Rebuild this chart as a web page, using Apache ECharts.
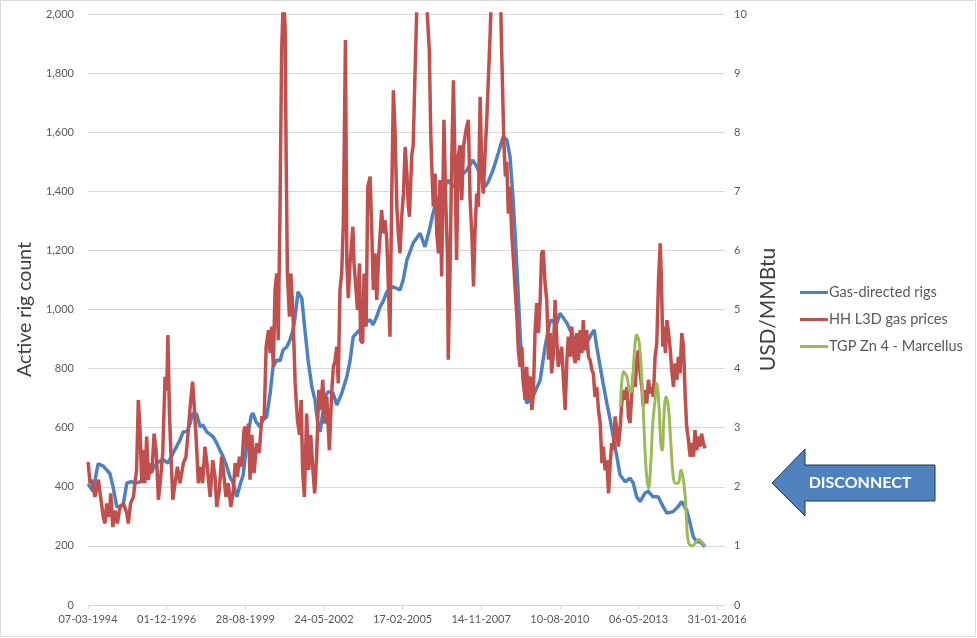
<!DOCTYPE html>
<html lang="en">
<head>
<meta charset="UTF-8">
<title>Gas rigs vs gas prices</title>
<style>html,body{margin:0;padding:0;background:#fff;}</style>
</head>
<body>
<div id="main" style="width:977px;height:638px;"></div>
<script src="https://cdn.jsdelivr.net/npm/echarts@6/dist/echarts.min.js"></script>
<script>
    // dates kept as decimal years, x axis runs in days from 07-03-1994
    var startYear = 1994.178;
    var startMs = Date.UTC(1994, 2, 7);
    var dateTicks = [0, 1000, 2000, 3000, 4000, 5000, 6000, 7000, 8000];

    var rigYears = [1994.18,1994.35,1994.53,1994.71,1994.94,1995.05,1995.18,1995.29,1995.40,1995.53,
        1995.68,1995.87,1996.09,1996.34,1996.57,1996.79,1996.96,1997.14,1997.38,1997.49,
        1997.63,1997.73,1997.83,1997.96,1998.08,1998.18,1998.31,1998.53,1998.66,1998.77,
        1998.88,1999.01,1999.12,1999.23,1999.36,1999.47,1999.58,1999.72,1999.86,1999.92,
        2000.03,2000.17,2000.26,2000.40,2000.52,2000.62,2000.75,2000.86,2000.97,2001.10,
        2001.21,2001.32,2001.39,2001.49,2001.62,2001.73,2001.84,2001.97,2002.08,2002.19,
        2002.26,2002.43,2002.54,2002.71,2002.84,2003.01,2003.19,2003.30,2003.41,2003.53,
        2003.65,2003.82,2004.00,2004.10,2004.23,2004.35,2004.45,2004.58,2004.80,2005.04,
        2005.15,2005.28,2005.50,2005.74,2005.91,2006.09,2006.19,2006.32,2006.54,2006.71,
        2006.89,2007.13,2007.37,2007.58,2007.71,2007.89,2008.00,2008.11,2008.28,2008.46,
        2008.63,2008.76,2008.87,2008.98,2009.11,2009.22,2009.33,2009.45,2009.67,2009.92,
        2010.09,2010.27,2010.50,2010.61,2010.85,2011.07,2011.31,2011.54,2011.72,2011.80,
        2011.89,2012.01,2012.11,2012.24,2012.36,2012.46,2012.59,2012.70,2012.88,2013.05,
        2013.16,2013.28,2013.40,2013.57,2013.68,2013.85,2014.03,2014.20,2014.33,2014.55,
        2014.72,2014.85,2015.02,2015.14,2015.25,2015.37,2015.49,2015.66];
    var rigCount = [410,385,478,470,445,400,332,334,338,413,
        417,413,420,447,480,493,480,514,558,586,
        586,615,649,646,603,609,586,570,548,524,
        503,468,434,413,366,406,440,560,640,649,
        620,603,626,637,717,806,829,826,863,874,
        897,931,976,1060,1038,931,829,739,694,603,
        586,705,722,717,677,716,773,826,908,920,
        931,954,965,948,976,1010,1027,1060,1077,1066,
        1100,1167,1225,1258,1212,1280,1326,1370,1404,1438,
        1415,1449,1472,1506,1483,1449,1415,1432,1472,1529,
        1585,1574,1517,1370,1145,920,751,683,705,761,
        874,964,953,987,954,908,880,886,920,931,
        874,806,751,683,626,570,502,440,417,429,
        413,366,350,379,385,366,366,333,311,316,
        333,350,321,277,231,214,214,197];

    var hhYears = [1994.18,1994.25,1994.31,1994.42,1994.54,1994.60,1994.71,1994.77,1994.83,1994.92,
        1994.97,1995.04,1995.12,1995.20,1995.29,1995.41,1995.53,1995.58,1995.66,1995.76,
        1995.81,1995.87,1995.93,1995.99,1996.05,1996.10,1996.16,1996.22,1996.28,1996.34,
        1996.40,1996.48,1996.55,1996.63,1996.69,1996.78,1996.86,1996.92,1996.96,1997.01,
        1997.06,1997.13,1997.21,1997.29,1997.38,1997.50,1997.59,1997.67,1997.73,1997.82,
        1997.87,1997.94,1998.02,1998.10,1998.17,1998.25,1998.33,1998.43,1998.52,1998.60,
        1998.66,1998.75,1998.83,1998.89,1998.98,1999.06,1999.15,1999.24,1999.30,1999.38,
        1999.45,1999.53,1999.61,1999.65,1999.68,1999.73,1999.76,1999.82,1999.88,1999.96,
        2000.05,2000.14,2000.23,2000.31,2000.38,2000.46,2000.52,2000.57,2000.63,2000.69,
        2000.75,2000.80,2000.86,2000.92,2000.98,2001.04,2001.08,2001.12,2001.19,2001.24,
        2001.31,2001.39,2001.47,2001.54,2001.60,2001.65,2001.71,2001.79,2001.86,2001.93,
        2002.00,2002.07,2002.14,2002.21,2002.28,2002.35,2002.42,2002.49,2002.58,2002.66,
        2002.72,2002.78,2002.84,2002.89,2002.95,2003.01,2003.07,2003.14,2003.19,2003.24,
        2003.30,2003.40,2003.44,2003.51,2003.56,2003.63,2003.67,2003.74,2003.79,2003.86,
        2003.92,2004.00,2004.06,2004.11,2004.17,2004.23,2004.29,2004.35,2004.40,2004.46,
        2004.52,2004.58,2004.64,2004.69,2004.75,2004.81,2004.87,2004.93,2004.98,2005.04,
        2005.10,2005.16,2005.22,2005.28,2005.33,2005.37,2005.45,2005.50,2005.56,2005.62,
        2005.68,2005.74,2005.81,2005.88,2005.95,2005.99,2006.06,2006.11,2006.14,2006.20,
        2006.26,2006.32,2006.38,2006.43,2006.49,2006.57,2006.63,2006.69,2006.72,2006.78,
        2006.84,2006.90,2006.96,2007.01,2007.07,2007.13,2007.19,2007.25,2007.30,2007.36,
        2007.42,2007.48,2007.54,2007.60,2007.65,2007.71,2007.77,2007.83,2007.89,2007.94,
        2008.00,2008.06,2008.12,2008.18,2008.25,2008.32,2008.39,2008.46,2008.52,2008.56,
        2008.62,2008.66,2008.71,2008.76,2008.81,2008.87,2008.93,2008.99,2009.05,2009.11,
        2009.16,2009.22,2009.28,2009.34,2009.39,2009.45,2009.51,2009.57,2009.63,2009.68,
        2009.74,2009.80,2009.86,2009.92,2009.97,2010.03,2010.09,2010.15,2010.21,2010.27,
        2010.32,2010.38,2010.44,2010.50,2010.55,2010.61,2010.67,2010.73,2010.79,2010.85,
        2010.90,2010.96,2011.02,2011.08,2011.14,2011.19,2011.25,2011.31,2011.37,2011.42,
        2011.48,2011.54,2011.60,2011.66,2011.72,2011.77,2011.83,2011.89,2011.95,2012.01,
        2012.07,2012.12,2012.18,2012.24,2012.30,2012.36,2012.41,2012.47,2012.53,2012.59,
        2012.64,2012.70,2012.76,2012.82,2012.88,2012.94,2012.99,2013.05,2013.11,2013.17,
        2013.23,2013.28,2013.34,2013.40,2013.46,2013.51,2013.57,2013.63,2013.69,2013.75,
        2013.80,2013.86,2013.92,2013.98,2014.04,2014.10,2014.14,2014.19,2014.23,2014.28,
        2014.33,2014.38,2014.44,2014.50,2014.56,2014.62,2014.68,2014.73,2014.79,2014.85,
        2014.91,2014.97,2015.02,2015.08,2015.14,2015.20,2015.26,2015.31,2015.37,2015.43,
        2015.49,2015.54,2015.60,2015.66];
    var hhPrice = [2.42,2.06,2.12,1.83,2.12,1.89,1.49,1.38,1.72,1.49,
        1.89,1.32,1.60,1.38,1.66,1.72,1.55,1.38,1.72,1.83,
        2.06,2.28,3.47,2.96,2.06,2.62,2.06,2.85,2.12,2.40,
        2.23,2.90,2.62,1.78,2.06,2.57,3.86,3.63,4.57,3.30,
        2.62,1.78,2.06,2.34,2.06,2.40,2.51,2.96,3.33,3.78,
        3.41,2.85,2.06,2.34,2.06,2.68,2.34,1.83,2.45,2.17,
        1.66,1.94,2.51,2.28,1.83,2.06,1.66,1.94,2.40,2.17,
        2.51,2.34,2.96,3.02,2.68,2.74,3.07,2.12,2.88,2.23,
        2.74,2.57,3.19,3.14,4.37,4.65,4.26,4.71,4.03,5.33,
        5.61,4.48,6.57,9.39,10.30,9.79,7.42,5.61,4.88,5.61,
        4.99,3.75,3.13,2.88,3.47,2.28,1.83,3.24,2.28,2.88,
        2.34,1.89,2.54,3.64,3.30,3.81,3.07,3.53,2.62,3.58,
        4.03,4.14,4.37,3.75,5.33,5.61,6.50,9.56,5.78,5.19,
        5.78,6.40,5.78,5.33,4.99,5.78,4.48,4.43,5.61,4.71,
        7.08,7.25,6.29,5.33,5.95,5.16,5.84,6.29,6.68,6.29,
        6.51,6.18,5.33,4.54,6.85,8.71,7.98,6.74,6.29,5.95,
        6.57,6.96,7.75,7.30,6.74,6.57,7.61,7.78,8.94,10.00,
        11.50,13.50,14.50,13.00,11.00,10.00,9.39,7.98,7.50,6.74,
        7.30,6.29,5.95,7.19,5.56,8.21,6.85,5.95,4.15,5.61,
        7.50,8.88,7.30,5.84,7.61,7.78,6.85,7.75,7.92,8.09,
        8.21,6.85,6.29,5.39,6.29,6.96,6.74,8.60,7.30,6.96,
        7.61,8.20,8.94,9.68,10.80,12.00,13.00,12.50,11.00,9.79,
        8.54,7.78,7.25,7.50,6.62,7.08,6.29,5.84,5.33,4.88,
        4.31,4.03,4.37,3.81,3.47,4.03,3.47,3.87,3.30,3.53,
        4.60,5.11,4.60,5.16,5.95,6.00,5.44,5.16,4.15,4.60,
        3.92,4.26,5.16,4.48,4.03,4.05,4.37,3.81,3.30,4.14,
        4.54,4.20,4.71,4.26,4.09,4.60,4.14,4.65,4.26,4.82,
        4.31,4.65,4.20,4.14,3.98,3.92,3.52,3.69,3.30,3.08,
        2.40,2.68,2.28,2.45,1.89,2.40,2.74,2.62,3.19,2.96,
        2.68,2.96,3.41,3.64,3.47,3.69,3.19,3.08,3.58,3.92,
        3.69,4.14,4.31,3.92,3.69,3.36,3.64,3.41,3.81,3.58,
        3.69,3.52,4.20,4.43,5.50,6.12,5.50,4.37,4.71,4.26,
        4.82,4.65,4.37,3.98,3.69,4.09,3.81,4.20,3.92,4.60,
        4.37,3.52,3.02,2.80,2.51,2.74,2.51,2.96,2.62,2.85,
        2.68,2.90,2.74,2.65];

    var tgpYears = [2012.72,2012.82,2012.94,2013.05,2013.11,2013.19,2013.28,2013.37,2013.46,2013.54,
        2013.61,2013.69,2013.77,2013.84,2013.92,2013.98,2014.05,2014.12,2014.17,2014.23,
        2014.30,2014.38,2014.47,2014.54,2014.62,2014.73,2014.82,2014.89,2014.97,2015.02,
        2015.08,2015.20,2015.31,2015.43,2015.54,2015.66];
    var tgpPrice = [3.36,3.95,3.86,3.61,3.62,4.20,4.57,4.43,3.81,2.96,
        2.28,1.97,2.40,3.07,3.47,3.75,3.41,2.74,2.62,3.19,
        3.52,3.36,2.74,2.23,2.06,2.06,2.28,2.17,1.83,1.38,
        1.07,1.00,1.04,1.11,1.07,1.00];

    function toDays(y) {
        return (y - startYear) * 365.25;
    }
    function pairs(years, vals) {
        return years.map(function (y, i) { return [toDays(y), vals[i]]; });
    }
    function pad(n) {
        return n < 10 ? '0' + n : '' + n;
    }
    function dateLabel(v) {
        var d = new Date(startMs + Math.round(v) * 86400000);
        return pad(d.getUTCDate()) + '-' + pad(d.getUTCMonth() + 1) + '-' + d.getUTCFullYear();
    }

    var font = 'Lato, "Open Sans", sans-serif';
    var main = echarts.init(document.getElementById('main'));
    var option = {
        backgroundColor: '#fff',
        animation: false,
        textStyle: { fontFamily: font },
        grid: { left: 88, right: 252, top: 14, bottom: 33, containLabel: false },
        legend: {
            orient: 'vertical',
            left: 795,
            top: 280,
            icon: 'rect',
            itemWidth: 28,
            itemHeight: 3,
            itemGap: 12,
            textStyle: { color: '#595959', fontSize: 14.5, fontFamily: font, padding: [0, 0, 0, -4] },
            data: ['Gas-directed rigs', 'HH L3D gas prices', 'TGP Zn 4 - Marcellus']
        },
        xAxis: {
            type: 'value',
            min: 0,
            max: 8100,
            interval: 1000,
            axisLine: { show: true, lineStyle: { color: '#d9d9d9', width: 1 } },
            axisTick: { show: true, length: 5, customValues: dateTicks, lineStyle: { color: '#d9d9d9' } },
            axisLabel: { customValues: dateTicks, formatter: dateLabel, color: '#595959', fontSize: 11, margin: 9 },
            splitLine: { show: false }
        },
        yAxis: [{
            type: 'value',
            min: 0,
            max: 2000,
            interval: 200,
            name: 'Active rig count',
            nameLocation: 'middle',
            nameGap: 41,
            nameTextStyle: { color: '#404040', fontSize: 19.5, fontFamily: font },
            axisLine: { show: false },
            axisTick: { show: false },
            axisLabel: {
                color: '#595959', fontSize: 11, margin: 14,
                formatter: function (v) { return v.toLocaleString('en-US'); }
            },
            splitLine: { lineStyle: { color: '#d9d9d9', width: 1 } }
        }, {
            type: 'value',
            position: 'right',
            min: 0,
            max: 10,
            interval: 1,
            name: 'USD/MMBtu',
            nameLocation: 'middle',
            nameGap: 32,
            nameTextStyle: { color: '#404040', fontSize: 21, fontFamily: font },
            axisLine: { show: false },
            axisTick: { show: false },
            axisLabel: { color: '#595959', fontSize: 11, margin: 9 },
            splitLine: { show: false }
        }],
        series: [{
            name: 'Gas-directed rigs',
            type: 'line',
            yAxisIndex: 0,
            showSymbol: false,
            color: '#4f81bd',
            lineStyle: { width: 3.5, color: '#4f81bd' },
            data: pairs(rigYears, rigCount)
        }, {
            name: 'HH L3D gas prices',
            type: 'line',
            yAxisIndex: 1,
            showSymbol: false,
            color: '#c0504d',
            lineStyle: { width: 3.5, color: '#c0504d' },
            data: pairs(hhYears, hhPrice)
        }, {
            name: 'TGP Zn 4 - Marcellus',
            type: 'line',
            yAxisIndex: 1,
            showSymbol: false,
            smooth: 0.4,
            color: '#9bbb59',
            lineStyle: { width: 3, color: '#9bbb59' },
            data: pairs(tgpYears, tgpPrice)
        }],
        graphic: [{
            type: 'rect',
            z: -1,
            shape: { x: 0.5, y: 0.5, width: 975, height: 636 },
            style: { fill: 'none', stroke: '#d9d9d9', lineWidth: 1 }
        }, {
            type: 'polygon',
            shape: { points: [[772, 483], [805, 449], [805, 465], [935, 465], [935, 501], [805, 501], [805, 516]] },
            style: { fill: '#4f81bd', stroke: '#23384f', lineWidth: 1 }
        }, {
            type: 'text',
            x: 860,
            y: 483,
            style: {
                text: 'DISCONNECT',
                fill: '#fff',
                font: 'bold 16px ' + font,
                align: 'center',
                verticalAlign: 'middle'
            }
        }]
    };
    main.setOption(option);
</script>
</body>
</html>
